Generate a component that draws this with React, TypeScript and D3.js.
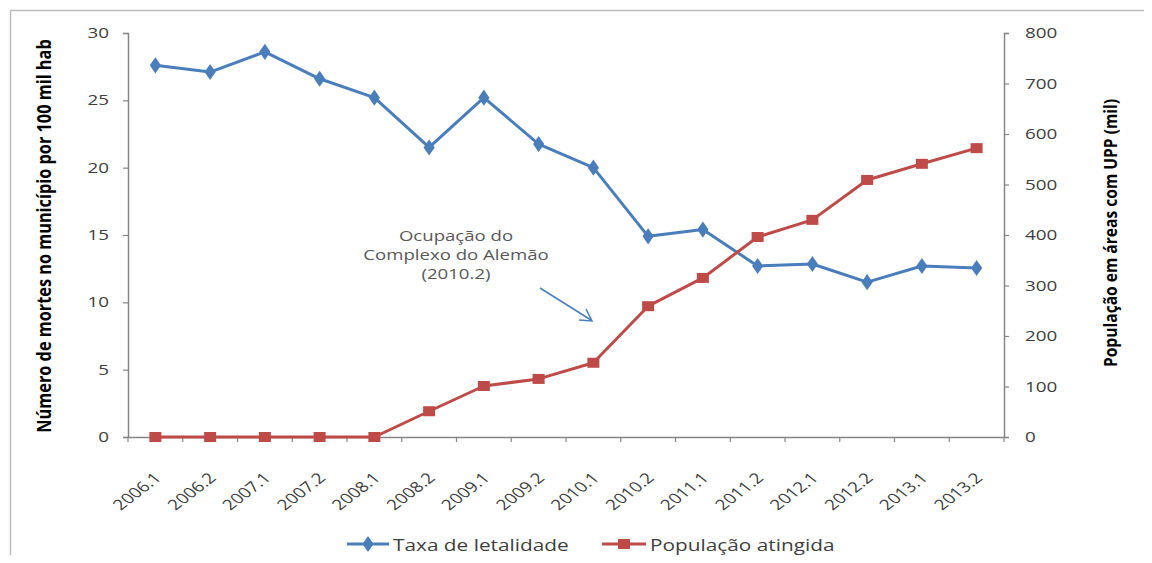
import React, { useEffect, useRef } from 'react'
import * as d3 from 'd3'

// semestres
const periods = ['2006.1', '2006.2', '2007.1', '2007.2', '2008.1', '2008.2', '2009.1', '2009.2',
  '2010.1', '2010.2', '2011.1', '2011.2', '2012.1', '2012.2', '2013.1', '2013.2']
// taxa de letalidade (mortes por 100 mil hab)
const letalidade = [27.6, 27.1, 28.6, 26.6, 25.2, 21.5, 25.2, 21.75, 20.0, 14.9, 15.4, 12.7, 12.85, 11.5, 12.7, 12.55]
// população atingida (mil)
const populacao = [0, 0, 0, 0, 0, 51, 101, 115, 147, 259, 315, 396, 430, 509, 541, 572]
const leftTicks = [0, 5, 10, 15, 20, 25, 30]
const rightTicks = [0, 100, 200, 300, 400, 500, 600, 700, 800]
const noteLines = ['Ocupação do', 'Complexo do Alemão', '(2010.2)']

const BLUE = '#4a7ebb'
const RED = '#be4b48'
const FONT = '"Open Sans", "Liberation Sans", sans-serif'
const SX = 1.3 // a figura original está esticada na horizontal

export default function App() {
  const ref = useRef<SVGSVGElement>(null)

  useEffect(() => {
    const svg = d3.select(ref.current)
    svg.selectAll('*').remove()

    const left = 128, right = 1004, top = 33, bottom = 437

    // moldura
    svg.append('rect').attr('x', 10.5).attr('y', 10.5).attr('width', 1160).attr('height', 560)
      .attr('fill', 'none').attr('stroke', '#bfbfbf').attr('stroke-width', 1.5)

    const x = d3.scaleBand().domain(periods).range([left, right])
    const yL = d3.scaleLinear().domain([0, 30]).range([bottom, top])
    const yR = d3.scaleLinear().domain([0, 800]).range([bottom, top])

    // eixo x
    const gx = svg.append('g').attr('transform', `translate(0,${bottom})`)
      .call(d3.axisBottom(x).tickSize(0))
    gx.select('.domain').attr('stroke', '#868686').attr('stroke-width', 1.5)
    gx.selectAll('text')
      .attr('font-family', FONT).attr('font-size', 14.5).attr('fill', '#404040')
      .attr('text-anchor', 'end').attr('x', 0).attr('y', 0).attr('dy', 0)
      .attr('transform', `translate(7,42) scale(${SX},1) rotate(-45)`)
    // marcas entre categorias
    const bounds = d3.range(periods.length + 1).map(i => left + i * x.step())
    gx.selectAll('line.tk').data(bounds).enter().append('line')
      .attr('x1', d => d).attr('x2', d => d).attr('y1', 0).attr('y2', 5)
      .attr('stroke', '#868686').attr('stroke-width', 1.2)

    // eixo esquerdo
    const gl = svg.append('g').attr('transform', `translate(${left},0)`)
      .call(d3.axisLeft(yL).tickValues(leftTicks).tickSize(5))
    gl.select('.domain').attr('stroke', '#868686').attr('stroke-width', 1.5)
    gl.selectAll('.tick line').attr('stroke', '#868686').attr('stroke-width', 1.2)
    gl.selectAll('text').attr('font-family', FONT).attr('font-size', 14.5).attr('fill', '#404040')
      .attr('x', 0).attr('transform', `translate(-19,0) scale(${SX},1)`)

    // eixo direito
    const gr = svg.append('g').attr('transform', `translate(${right},0)`)
      .call(d3.axisRight(yR).tickValues(rightTicks).tickSize(5))
    gr.select('.domain').attr('stroke', '#868686').attr('stroke-width', 1.5)
    gr.selectAll('.tick line').attr('stroke', '#868686').attr('stroke-width', 1.2)
    gr.selectAll('text').attr('font-family', FONT).attr('font-size', 14.5).attr('fill', '#404040')
      .attr('x', 0).attr('transform', `translate(21,0) scale(${SX},1)`)

    // títulos dos eixos
    svg.append('text').attr('transform', `translate(51,236) scale(1.15,1) rotate(-90)`)
      .attr('text-anchor', 'middle').attr('font-family', FONT).attr('font-weight', 'bold')
      .attr('font-size', 16.3).attr('fill', '#000')
      .text('Número de mortes no município por 100 mil hab')
    svg.append('text').attr('transform', `translate(1117,233) scale(1.15,1) rotate(-90)`)
      .attr('text-anchor', 'middle').attr('font-family', FONT).attr('font-weight', 'bold')
      .attr('font-size', 15.6).attr('fill', '#000')
      .text('População em áreas com UPP (mil)')

    const cx = (d: string) => (x(d) as number) + x.bandwidth() / 2

    // linha azul
    const lineL = d3.line<number>().x((d, i) => cx(periods[i])).y(d => yL(d))
    svg.append('path').datum(letalidade).attr('d', lineL)
      .attr('fill', 'none').attr('stroke', BLUE).attr('stroke-width', 3).attr('stroke-linejoin', 'round')
    const diamond = d3.symbol().type(d3.symbolDiamond).size(75)
    svg.selectAll('path.dm').data(letalidade).enter().append('path')
      .attr('d', diamond)
      .attr('transform', (d, i) => `translate(${cx(periods[i])},${yL(d)}) scale(1.2,1)`)
      .attr('fill', BLUE)

    // linha vermelha
    const lineR = d3.line<number>().x((d, i) => cx(periods[i])).y(d => yR(d))
    svg.append('path').datum(populacao).attr('d', lineR)
      .attr('fill', 'none').attr('stroke', RED).attr('stroke-width', 3).attr('stroke-linejoin', 'round')
    svg.selectAll('rect.sq').data(populacao).enter().append('rect')
      .attr('x', (d, i) => cx(periods[i]) - 6).attr('y', d => yR(d) - 5)
      .attr('width', 12).attr('height', 10).attr('fill', RED)

    // anotação
    svg.append('g').attr('transform', `translate(456,0) scale(${SX},1)`)
      .append('text').attr('font-family', FONT).attr('font-size', 14.3).attr('fill', '#595959')
      .attr('text-anchor', 'middle')
      .selectAll('tspan').data(noteLines).enter().append('tspan')
      .attr('x', 0).attr('y', (d, i) => 241 + i * 19).text(d => d)
    svg.append('line').attr('x1', 540).attr('y1', 288).attr('x2', 591).attr('y2', 320)
      .attr('stroke', BLUE).attr('stroke-width', 1.5)
    svg.append('path').attr('d', 'M579,320 L592,321 L586,309')
      .attr('fill', 'none').attr('stroke', BLUE).attr('stroke-width', 1.5)

    // legenda
    const lg = svg.append('g').attr('transform', 'translate(0,544)')
    lg.append('line').attr('x1', 347).attr('x2', 389).attr('stroke', BLUE).attr('stroke-width', 3)
    lg.append('path').attr('d', diamond).attr('transform', 'translate(368,0) scale(1.2,1)').attr('fill', BLUE)
    lg.append('text').attr('transform', `translate(393,7) scale(${SX},1)`)
      .attr('font-family', FONT).attr('font-size', 16).attr('fill', '#404040').text('Taxa de letalidade')
    lg.append('line').attr('x1', 602).attr('x2', 646).attr('stroke', RED).attr('stroke-width', 3)
    lg.append('rect').attr('x', 618).attr('y', -5).attr('width', 12).attr('height', 10).attr('fill', RED)
    lg.append('text').attr('transform', `translate(650,7) scale(${SX},1)`)
      .attr('font-family', FONT).attr('font-size', 16).attr('fill', '#404040').text('População atingida')
  }, [])

  return (
    <div style={{ margin: -8, width: 1152, height: 563, overflow: 'hidden', background: '#fff' }}>
      <svg ref={ref} width={1152} height={563} />
    </div>
  )
}
